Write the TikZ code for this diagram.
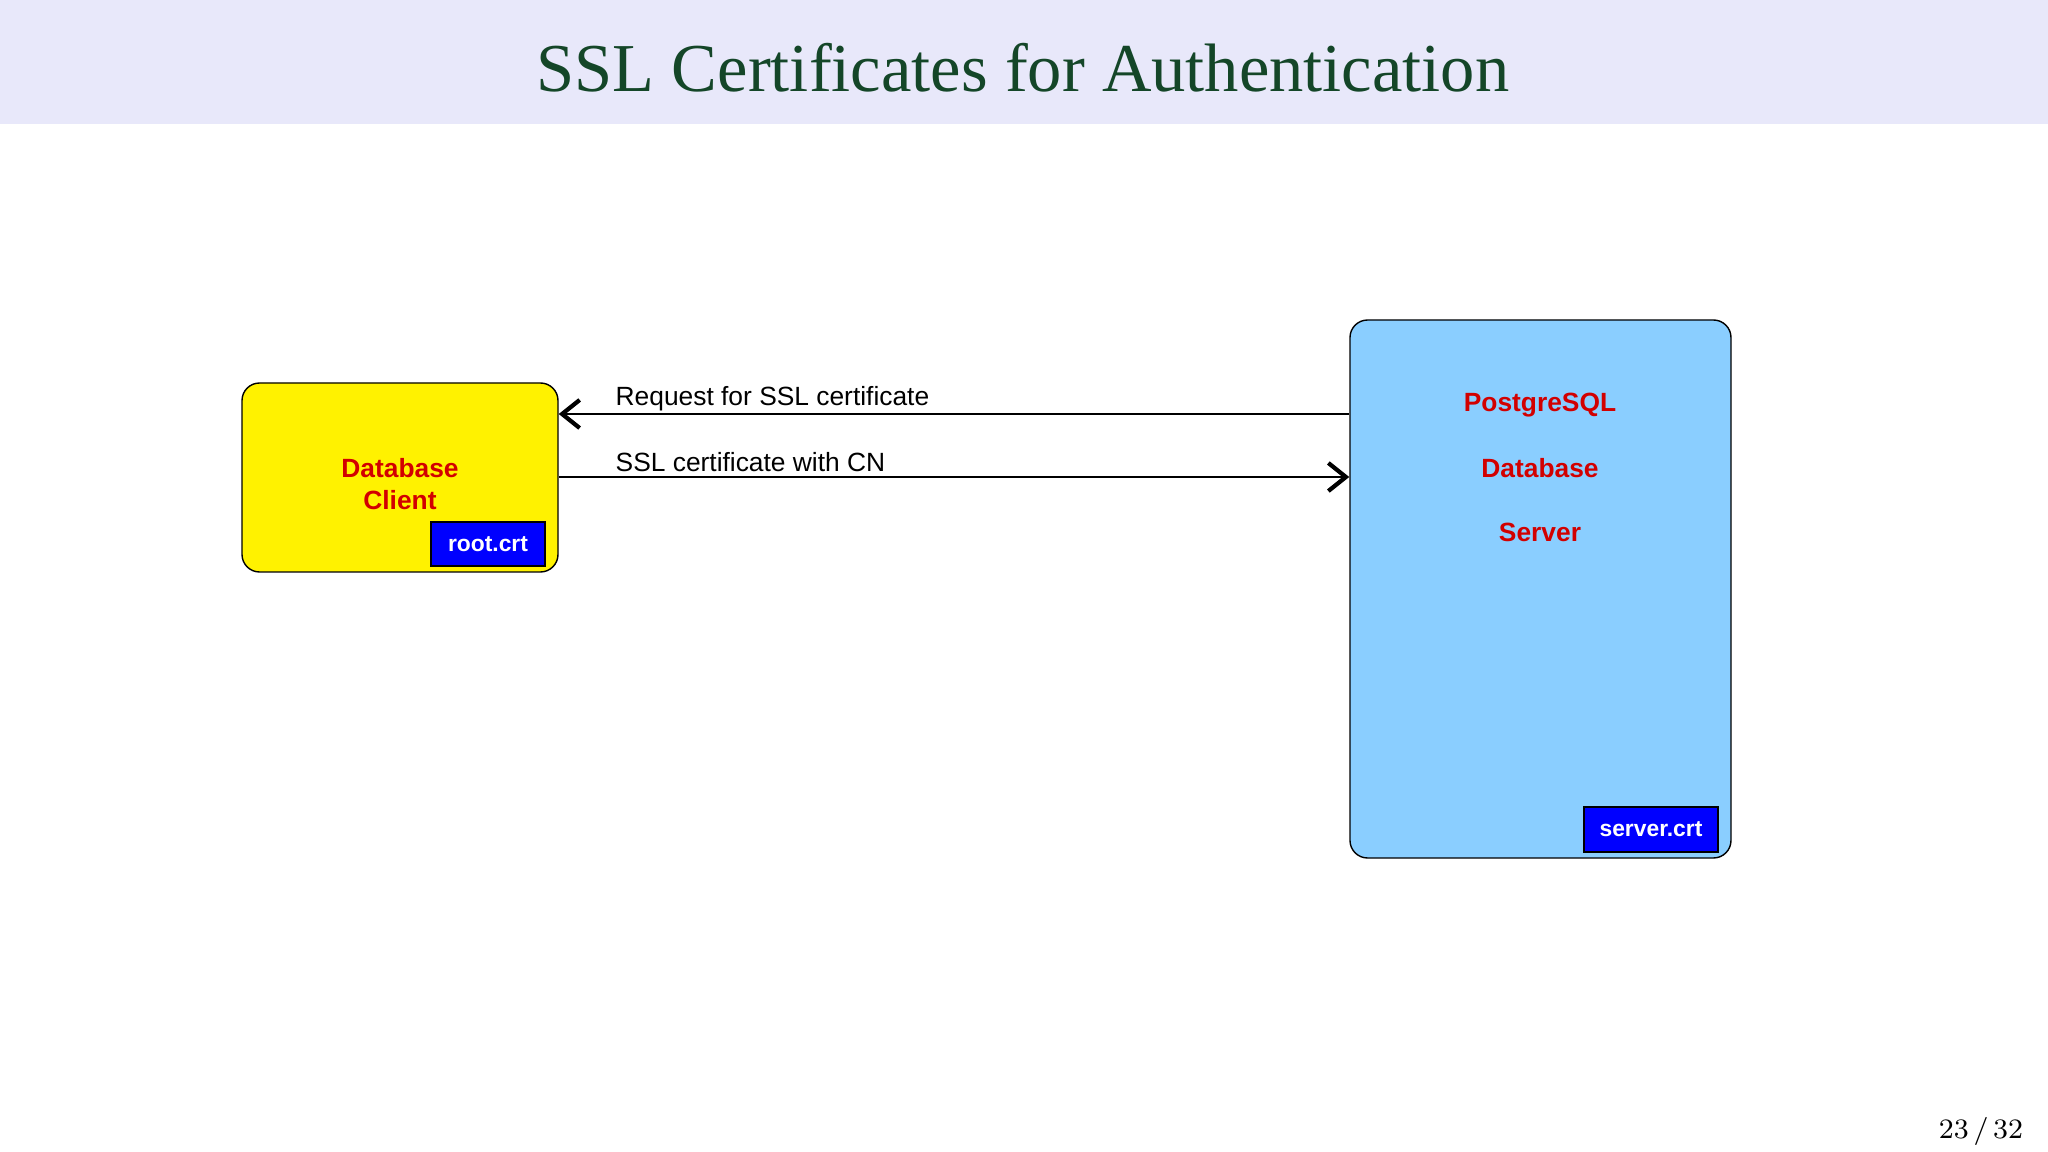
\documentclass[tikz,border=0pt]{standalone}
\usepackage{fontspec}
\setmainfont{Latin Modern Roman}
\newfontfamily\arialfont{Liberation Sans}
\newfontfamily\titlefont{Liberation Serif}
\usetikzlibrary{positioning,arrows.meta}
\definecolor{titlegreen}{RGB}{20,70,40}
\definecolor{bandblue}{RGB}{232,232,250}
\definecolor{labelred}{RGB}{210,0,0}
\definecolor{serverblue}{RGB}{138,206,255}
\tikzset{
  hostbox/.style={draw,rounded corners=5pt,thin},
  hostlabel/.style={font=\arialfont\fontsize{7.5}{9.3}\selectfont\bfseries,text=labelred,align=center},
  certbox/.style={draw,fill=blue,text=white,font=\arialfont\fontsize{6.5}{8}\selectfont\bfseries,inner sep=0pt},
  msglabel/.style={font=\arialfont\fontsize{7.5}{9}\selectfont,anchor=west,inner sep=0pt},
  msgarrow/.style={thin,-{Straight Barb[length=5pt,width=8pt,line width=1.2pt]}}
}
\begin{document}
\begin{tikzpicture}
\useasboundingbox (0,0) rectangle (20.48,-11.52);
\fill[bandblue] (0,0) rectangle (20.48,-1.24);
\node[text=titlegreen,font=\titlefont\fontsize{19.5}{24}\selectfont] (title) at (10.23,-0.68) {SSL Certificates for Authentication};

% hosts
\node[hostbox,fill=yellow,minimum width=3.16cm,minimum height=1.89cm] (client) at (4.00,-4.775) {};
\node[hostbox,fill=serverblue,minimum width=3.81cm,minimum height=5.38cm] (server) at (15.405,-5.89) {};
\node[hostlabel] (clientlabel) at (4.00,-4.84) {Database\\Client};
\node[hostlabel] (pg) at (15.40,-4.05) {PostgreSQL};
\node[hostlabel] (db) at (15.40,-4.68) {Database};
\node[hostlabel] (srv) at (15.40,-5.32) {Server};

% certificates
\node[certbox,minimum width=1.14cm,minimum height=0.44cm] (rootcrt) at (4.88,-5.44) {root.crt};
\node[certbox,minimum width=1.34cm,minimum height=0.45cm] (servercrt) at (16.51,-8.295) {server.crt};

% messages
\coordinate (reqs) at (server.west |- 0,-4.14);
\coordinate (reqe) at (client.east |- 0,-4.14);
\coordinate (certs) at (client.east |- 0,-4.77);
\coordinate (certe) at (server.west |- 0,-4.77);
\draw[msgarrow] (reqs) -- (reqe);
\draw[msgarrow] (certs) -- (certe);
\node[msglabel] (reqlabel) at (6.15,-3.99) {Request for SSL certificate};
\node[msglabel] (certlabel) at (6.15,-4.62) {SSL certificate with CN};

\node[font=\fontsize{8}{10}\selectfont] (page) at (19.81,-11.31) {23\,/\,32};
\end{tikzpicture}
\end{document}
